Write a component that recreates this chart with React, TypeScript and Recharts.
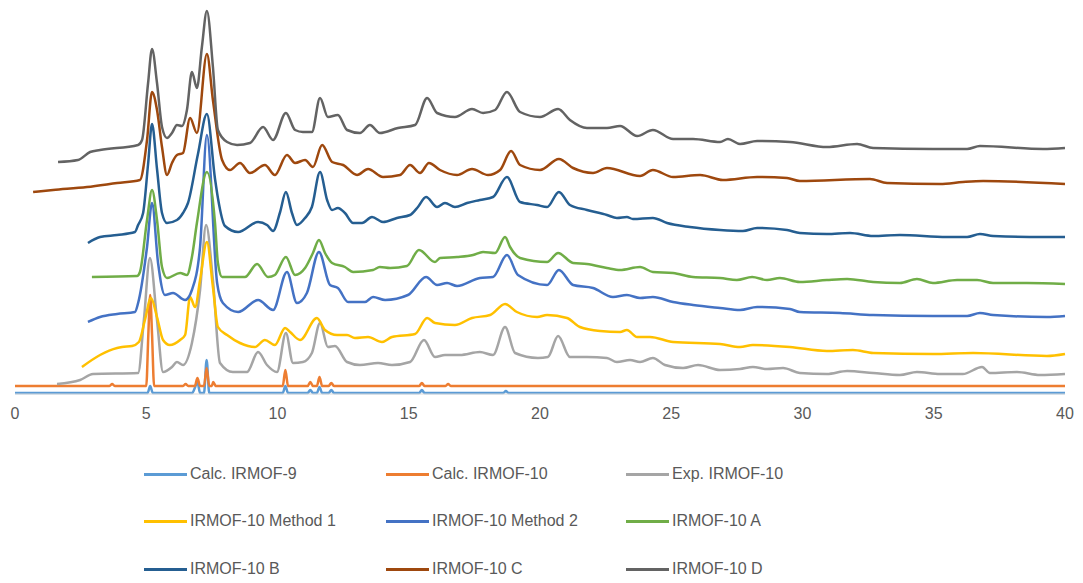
import React from "react";
import { LineChart, Line, XAxis, YAxis } from "recharts";

// 2θ (degrees) vs. stacked intensity (offset arbitrary units)
type Pt = [number, number];

const calcIrmof9: Pt[] = [
  [0, 1], [5.05, 1], [5.15, 8], [5.25, 1], [6.75, 1], [6.85, 6], [6.95, 12], [7.05, 1],
  [7.2, 1], [7.3, 34], [7.4, 1], [10.2, 1], [10.3, 8], [10.4, 1], [11.15, 1], [11.25, 4],
  [11.35, 1], [11.5, 1], [11.6, 7], [11.7, 1], [11.95, 1], [12.05, 4], [12.15, 1],
  [15.4, 1], [15.5, 4], [15.6, 1], [18.6, 1], [18.7, 3], [18.8, 1], [40, 1],
];

const calcIrmof10: Pt[] = [
  [0, 8], [3.6, 8], [3.7, 10], [3.8, 8], [5.0, 8], [5.08, 60], [5.15, 99], [5.22, 60], [5.3, 8],
  [6.4, 8], [6.5, 10], [6.6, 8], [6.85, 8], [6.95, 16], [7.05, 8], [7.2, 8], [7.3, 26],
  [7.4, 8], [7.5, 8], [7.55, 12], [7.65, 8], [10.2, 8], [10.3, 24], [10.4, 8], [11.15, 8],
  [11.25, 12], [11.35, 8], [11.5, 8], [11.6, 17], [11.7, 8], [11.95, 8], [12.05, 11],
  [12.15, 8], [15.4, 8], [15.5, 11], [15.6, 8], [16.4, 8], [16.5, 10], [16.6, 8], [40, 8],
];

const expIrmof10: Pt[] = [
  [1.6, 10], [2.48, 14], [2.97, 20], [4.69, 21], [4.91, 74], [5.14, 136], [5.41, 74],
  [5.64, 22], [5.98, 27], [6.17, 32], [6.4, 29], [6.74, 51], [7.05, 104], [7.28, 169],
  [7.54, 114], [7.81, 31], [8.3, 22], [8.84, 22], [9.26, 42], [9.6, 29], [9.98, 22],
  [10.32, 61], [10.59, 31], [10.97, 32], [11.31, 41], [11.62, 71], [11.92, 47], [12.19, 48],
  [12.65, 32], [13.14, 29], [13.83, 31], [14.36, 29], [15.05, 32], [15.58, 54], [16.0, 37],
  [16.38, 39], [16.95, 39], [17.71, 42], [18.21, 39], [18.67, 67], [19.05, 41], [19.92, 36],
  [20.3, 37], [20.69, 58], [21.14, 37], [21.79, 37], [22.55, 36], [22.93, 32], [23.43, 34],
  [23.81, 32], [24.3, 36], [24.76, 29], [25.45, 26], [26.02, 29], [26.86, 24], [27.62, 25],
  [28.11, 27], [28.65, 25], [29.26, 26], [29.9, 21], [30.93, 20], [31.7, 23], [32.69, 21],
  [33.71, 19], [34.36, 22], [35.24, 20], [36.11, 20], [36.84, 27], [37.14, 21], [38.17, 22],
  [39.05, 19], [40, 20],
];

const method1: Pt[] = [
  [2.55, 27], [3.24, 39], [3.89, 46], [4.08, 47], [4.46, 48], [4.72, 52], [4.95, 74],
  [5.18, 96], [5.41, 77], [5.64, 54], [5.9, 49], [6.29, 54], [6.48, 59], [6.67, 97],
  [6.86, 87], [7.05, 114], [7.31, 152], [7.54, 107], [7.73, 67], [8.08, 59], [8.57, 51],
  [9.14, 47], [9.52, 54], [9.9, 49], [10.29, 66], [10.48, 62], [10.86, 54], [11.5, 76],
  [11.81, 64], [12.27, 59], [12.65, 59], [12.95, 56], [13.45, 57], [13.98, 52], [14.36, 57],
  [15.24, 60], [15.7, 76], [16.0, 71], [16.76, 69], [17.41, 76], [18.1, 79], [18.67, 90],
  [19.12, 82], [19.89, 77], [20.27, 79], [21.03, 76], [21.52, 67], [22.29, 63], [23.05, 62],
  [23.31, 64], [23.7, 57], [24.19, 57], [25.07, 52], [26.86, 50], [27.62, 47], [28.11, 49],
  [29.52, 47], [30.93, 43], [31.92, 44], [32.69, 41], [34.97, 40], [36.5, 41], [39.31, 38],
  [40, 40],
];

const method2: Pt[] = [
  [2.78, 72], [3.24, 77], [3.89, 80], [4.57, 82], [4.69, 91], [5.03, 147], [5.22, 191],
  [5.45, 131], [5.71, 99], [6.02, 101], [6.48, 94], [6.74, 104], [7.05, 147], [7.31, 259],
  [7.7, 111], [7.92, 91], [8.5, 82], [9.26, 94], [9.83, 84], [10.36, 122], [10.74, 91],
  [11.12, 101], [11.58, 142], [12.0, 109], [12.3, 106], [12.69, 92], [13.33, 92], [13.64, 97],
  [14.1, 94], [14.97, 99], [15.66, 117], [16.08, 109], [16.46, 111], [16.84, 108], [17.71, 116],
  [18.21, 117], [18.74, 139], [19.16, 119], [20.27, 109], [20.72, 124], [21.26, 109],
  [22.02, 106], [22.78, 97], [23.31, 99], [23.81, 96], [24.3, 97], [25.07, 92], [25.83, 89],
  [26.86, 86], [27.62, 84], [28.27, 87], [29.52, 85], [29.9, 82], [31.43, 81], [32.69, 79],
  [34.97, 78], [36.27, 78], [36.76, 81], [37.26, 79], [39.31, 77], [40, 78],
];

const irmof10A: Pt[] = [
  [2.93, 117], [4.65, 118], [4.76, 122], [5.03, 174], [5.22, 204], [5.41, 174], [5.6, 127],
  [5.79, 116], [6.29, 121], [6.55, 119], [6.74, 137], [6.93, 171], [7.31, 222], [7.62, 171],
  [7.73, 131], [7.89, 117], [8.76, 117], [9.22, 130], [9.64, 117], [9.9, 119], [10.32, 137],
  [10.67, 119], [11.05, 126], [11.35, 141], [11.58, 154], [11.81, 141], [12.08, 131],
  [12.57, 127], [12.88, 122], [13.64, 124], [13.9, 127], [14.29, 126], [14.93, 128],
  [15.39, 144], [16.0, 132], [16.19, 136], [16.84, 137], [17.45, 139], [17.83, 142],
  [18.29, 141], [18.67, 157], [18.86, 147], [19.24, 136], [20.27, 132], [20.69, 141],
  [21.26, 131], [21.79, 130], [22.55, 126], [23.05, 124], [23.81, 127], [24.3, 122],
  [25.07, 121], [25.83, 117], [26.86, 116], [27.5, 114], [28.08, 117], [28.65, 114],
  [29.14, 116], [29.9, 112], [30.93, 114], [31.7, 115], [32.69, 112], [33.71, 111],
  [34.36, 115], [34.97, 111], [35.89, 114], [36.65, 114], [37.26, 111], [38.55, 111], [40, 110],
];

const irmof10B: Pt[] = [
  [2.78, 151], [3.24, 157], [3.89, 159], [4.57, 162], [4.69, 169], [4.88, 181], [5.07, 230],
  [5.22, 270], [5.41, 225], [5.6, 181], [5.79, 171], [6.17, 174], [6.4, 181], [6.59, 191],
  [6.97, 240], [7.31, 280], [7.62, 215], [7.73, 196], [8.0, 168], [8.5, 162], [9.26, 172],
  [9.6, 169], [9.83, 163], [10.1, 182], [10.32, 202], [10.55, 181], [10.74, 169], [11.05, 176],
  [11.31, 187], [11.62, 222], [11.89, 194], [12.08, 184], [12.3, 186], [12.57, 181],
  [12.88, 171], [13.22, 171], [13.6, 177], [14.02, 172], [14.55, 176], [15.05, 179],
  [15.35, 187], [15.66, 197], [16.08, 187], [16.38, 191], [16.76, 187], [17.22, 191],
  [17.71, 194], [18.21, 197], [18.74, 217], [19.24, 192], [19.89, 189], [20.27, 187],
  [20.72, 202], [21.14, 189], [21.79, 184], [22.55, 179], [22.93, 176], [23.31, 177],
  [23.54, 175], [24.3, 176], [24.84, 171], [25.71, 167], [26.86, 164], [27.73, 163],
  [28.27, 166], [29.41, 164], [29.9, 161], [30.93, 160], [31.81, 161], [32.69, 158],
  [33.71, 159], [35.5, 157], [36.27, 157], [36.76, 160], [37.26, 158], [39.16, 157], [40, 157],
];

const irmof10C: Pt[] = [
  [0.69, 202], [1.45, 204], [2.74, 207], [3.89, 211], [4.76, 214], [5.03, 254], [5.22, 302],
  [5.41, 284], [5.6, 247], [5.79, 219], [5.98, 231], [6.17, 239], [6.4, 241], [6.67, 276],
  [6.93, 261], [7.31, 340], [7.54, 294], [7.89, 234], [8.19, 224], [8.57, 231], [8.95, 221],
  [9.52, 229], [9.9, 219], [10.36, 239], [10.67, 231], [11.05, 234], [11.35, 227], [11.7, 249],
  [12.08, 232], [12.5, 229], [13.03, 219], [13.45, 225], [14.02, 217], [14.67, 219],
  [15.05, 229], [15.43, 221], [15.77, 231], [16.19, 224], [16.84, 219], [17.41, 225],
  [18.02, 219], [18.48, 224], [18.9, 243], [19.24, 229], [20.0, 224], [20.72, 235],
  [21.26, 226], [22.02, 221], [22.55, 226], [23.81, 218], [24.3, 224], [25.07, 217],
  [26.1, 219], [26.97, 214], [28.27, 217], [29.41, 216], [29.9, 213], [32.57, 215],
  [33.22, 211], [35.24, 210], [36.11, 212], [36.88, 213], [40, 210],
];

const irmof10D: Pt[] = [
  [1.64, 232], [2.4, 234], [2.86, 242], [3.24, 244], [4.69, 249], [4.84, 254], [5.07, 311],
  [5.22, 345], [5.41, 311], [5.6, 267], [5.79, 256], [5.98, 261], [6.17, 269], [6.36, 268],
  [6.55, 284], [6.74, 322], [6.93, 306], [7.12, 347], [7.31, 383], [7.54, 327], [7.73, 264],
  [8.08, 252], [8.46, 249], [8.95, 251], [9.45, 267], [9.83, 254], [10.32, 281], [10.67, 264],
  [10.97, 262], [11.31, 262], [11.62, 296], [11.92, 277], [12.3, 279], [12.65, 264],
  [13.14, 261], [13.52, 269], [13.9, 261], [14.59, 266], [15.24, 269], [15.7, 296],
  [16.08, 281], [16.76, 277], [17.41, 285], [17.83, 281], [18.29, 284], [18.74, 302],
  [19.24, 282], [20.0, 277], [20.69, 285], [21.14, 274], [21.79, 266], [22.55, 266],
  [23.05, 268], [23.7, 258], [24.3, 264], [25.07, 255], [25.83, 255], [26.86, 252],
  [27.16, 255], [27.62, 250], [28.27, 253], [29.52, 252], [30.93, 247], [32.08, 250],
  [32.69, 246], [34.97, 245], [36.27, 245], [36.76, 248], [39.16, 245], [40, 246],
];

const xTicks = [0, 5, 10, 15, 20, 25, 30, 35, 40];

const series = [
  { name: "Calc. IRMOF-9", color: "#5B9BD5", points: calcIrmof9 },
  { name: "Calc. IRMOF-10", color: "#ED7D31", points: calcIrmof10 },
  { name: "Exp. IRMOF-10", color: "#A5A5A5", points: expIrmof10 },
  { name: "IRMOF-10 Method 1", color: "#FFC000", points: method1 },
  { name: "IRMOF-10 Method 2", color: "#4472C4", points: method2 },
  { name: "IRMOF-10 A", color: "#70AD47", points: irmof10A },
  { name: "IRMOF-10 B", color: "#255E91", points: irmof10B },
  { name: "IRMOF-10 C", color: "#9E480E", points: irmof10C },
  { name: "IRMOF-10 D", color: "#636363", points: irmof10D },
];

const font = "'Liberation Sans', Arial, sans-serif";
const legendCols = [144, 386, 626];
const legendRows = [474, 521, 569];

export default function App() {
  return (
    <div style={{ position: "absolute", left: 0, top: 0, width: 1083, height: 583, background: "#fff" }}>
      <LineChart width={1083} height={583} margin={{ top: 5, right: 18, left: 15, bottom: 159 }}>
        <XAxis
          type="number"
          dataKey="x"
          domain={[0, 40]}
          ticks={xTicks}
          height={30}
          tickLine={false}
          axisLine={{ stroke: "#d9d9d9" }}
          tickMargin={8}
          tick={{ fontSize: 16, fill: "#595959", fontFamily: font }}
          interval={0}
        />
        <YAxis hide type="number" domain={[0, 389]} />
        {series.map((s) => (
          <Line
            key={s.name}
            data={s.points.map(([x, y]) => ({ x, y }))}
            dataKey="y"
            name={s.name}
            type="monotone"
            stroke={s.color}
            strokeWidth={2.5}
            dot={false}
            isAnimationActive={false}
          />
        ))}
      </LineChart>
      {series.map((s, i) => (
        <div
          key={s.name}
          style={{
            position: "absolute",
            left: legendCols[i % 3],
            top: legendRows[Math.floor(i / 3)] - 10,
            height: 20,
            display: "flex",
            alignItems: "center",
            fontFamily: font,
            fontSize: 16,
            color: "#595959",
            whiteSpace: "nowrap",
          }}
        >
          <span style={{ display: "inline-block", width: 43, height: 3, background: s.color, marginRight: 3 }} />
          {s.name}
        </div>
      ))}
    </div>
  );
}
